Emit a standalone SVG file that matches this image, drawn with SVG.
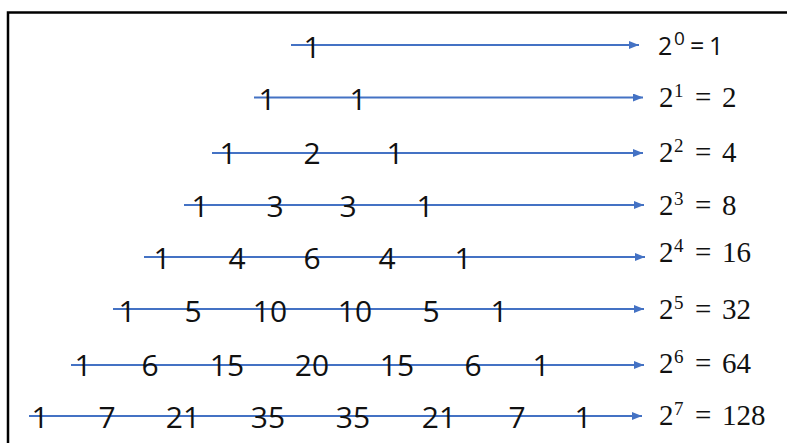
<svg xmlns="http://www.w3.org/2000/svg" width="787" height="443" viewBox="0 0 787 443">
<style>
.n{font-family:"Open Sans","Noto Sans",sans-serif;font-size:30px;fill:#111;text-anchor:middle}
.r{font-family:"Liberation Serif","DejaVu Serif",serif;font-size:29px;fill:#111}
.r0{font-family:"Open Sans","Noto Sans",sans-serif;font-size:25px;fill:#111}
.s{font-size:19px}
.ln{stroke:#4472C4;stroke-width:2;fill:none;marker-end:url(#ah)}
</style>
<defs>
<marker id="ah" viewBox="0 0 10 8" refX="10" refY="4" markerWidth="10" markerHeight="8" markerUnits="userSpaceOnUse" orient="auto">
<path d="M0,0 L10,4 L0,8 Z" fill="#4472C4"/>
</marker>
</defs>
<rect x="8" y="12.5" width="800" height="460" fill="#fff" stroke="#000" stroke-width="2.5"/>
<g id="connectors">
<line class="ln" x1="291" y1="45" x2="639" y2="45"/>
<line class="ln" x1="254" y1="97.5" x2="643" y2="97.5"/>
<line class="ln" x1="212" y1="153" x2="643" y2="153"/>
<line class="ln" x1="184" y1="205" x2="644" y2="205"/>
<line class="ln" x1="144" y1="257" x2="645" y2="257"/>
<line class="ln" x1="113" y1="309" x2="644" y2="309"/>
<line class="ln" x1="71" y1="365" x2="644" y2="365"/>
<line class="ln" x1="29" y1="416" x2="642" y2="416"/>
</g>
<g id="row0"><text class="n" x="312" y="58">1</text></g>
<g id="row1"><text class="n" x="267" y="110">1</text><text class="n" x="358" y="110">1</text></g>
<g id="row2"><text class="n" x="228" y="164">1</text><text class="n" x="312" y="164">2</text><text class="n" x="395" y="164">1</text></g>
<g id="row3"><text class="n" x="200" y="217">1</text><text class="n" x="275" y="217">3</text><text class="n" x="348" y="217">3</text><text class="n" x="425" y="217">1</text></g>
<g id="row4"><text class="n" x="162" y="269">1</text><text class="n" x="237" y="269">4</text><text class="n" x="312" y="269">6</text><text class="n" x="387" y="269">4</text><text class="n" x="463" y="269">1</text></g>
<g id="row5"><text class="n" x="127" y="322">1</text><text class="n" x="193" y="322">5</text><text class="n" x="270" y="322">10</text><text class="n" x="355" y="322">10</text><text class="n" x="431" y="322">5</text><text class="n" x="499" y="322">1</text></g>
<g id="row6"><text class="n" x="83" y="376">1</text><text class="n" x="150" y="376">6</text><text class="n" x="227" y="376">15</text><text class="n" x="312" y="376">20</text><text class="n" x="397" y="376">15</text><text class="n" x="473" y="376">6</text><text class="n" x="541" y="376">1</text></g>
<g id="row7"><text class="n" x="40" y="428">1</text><text class="n" x="107" y="428">7</text><text class="n" x="183" y="428">21</text><text class="n" x="268" y="428">35</text><text class="n" x="353" y="428">35</text><text class="n" x="439" y="428">21</text><text class="n" x="517" y="428">7</text><text class="n" x="583" y="428">1</text></g>
<g id="pow0"><text class="r0" x="658" y="55">2<tspan class="s" x="674" y="45">0</tspan><tspan x="690" y="55">=</tspan><tspan x="709" y="55">1</tspan></text></g>
<g id="pow1"><text class="r" x="659" y="107">2<tspan class="s" x="674" y="97">1</tspan><tspan x="695" y="107">=</tspan><tspan x="722" y="107">2</tspan></text></g>
<g id="pow2"><text class="r" x="659" y="162">2<tspan class="s" x="674" y="152">2</tspan><tspan x="695" y="162">=</tspan><tspan x="722" y="162">4</tspan></text></g>
<g id="pow3"><text class="r" x="659" y="215">2<tspan class="s" x="674" y="205">3</tspan><tspan x="695" y="215">=</tspan><tspan x="722" y="215">8</tspan></text></g>
<g id="pow4"><text class="r" x="659" y="262">2<tspan class="s" x="674" y="252">4</tspan><tspan x="695" y="262">=</tspan><tspan x="722" y="262">16</tspan></text></g>
<g id="pow5"><text class="r" x="659" y="319">2<tspan class="s" x="674" y="309">5</tspan><tspan x="695" y="319">=</tspan><tspan x="722" y="319">32</tspan></text></g>
<g id="pow6"><text class="r" x="659" y="373">2<tspan class="s" x="674" y="363">6</tspan><tspan x="695" y="373">=</tspan><tspan x="722" y="373">64</tspan></text></g>
<g id="pow7"><text class="r" x="659" y="425">2<tspan class="s" x="674" y="415">7</tspan><tspan x="695" y="425">=</tspan><tspan x="722" y="425">128</tspan></text></g>
</svg>
